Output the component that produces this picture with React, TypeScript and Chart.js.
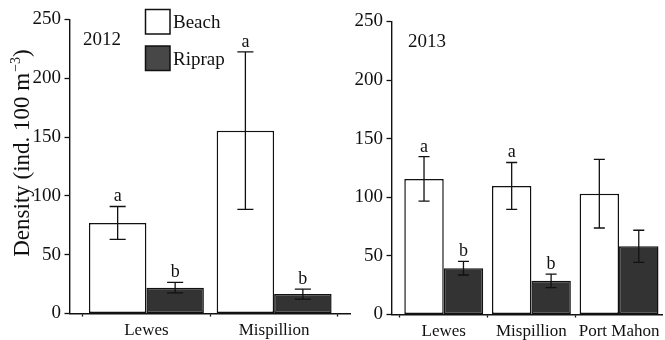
import React, { useEffect, useRef } from "react";
import { Chart, registerables } from "chart.js";

Chart.register(...registerables);

// ---------- data ----------
const SERIES_NAMES = ["Beach", "Riprap"];
const Y_TITLE_MAIN = "Density (ind. 100 m";
const Y_TITLE_SUP = "\u22123";
const Y_TITLE_END = ")";

const YEAR_2012 = "2012";
const SITES_2012 = ["Lewes", "Mispillion"];
const BEACH_2012 = [77, 155.5];
const BEACH_2012_ERR = [14, 67];
const BEACH_2012_LETTERS = ["a", "a"];
const RIPRAP_2012 = [22, 16.5];
const RIPRAP_2012_ERR = [4.5, 4.3];
const RIPRAP_2012_LETTERS = ["b", "b"];

const YEAR_2013 = "2013";
const SITES_2013 = ["Lewes", "Mispillion", "Port Mahon"];
const BEACH_2013 = [115.7, 109.7, 103.1];
const BEACH_2013_ERR = [19, 20, 29.3];
const BEACH_2013_LETTERS = ["a", "a", ""];
const RIPRAP_2013 = [39.5, 28.7, 58.2];
const RIPRAP_2013_ERR = [5.8, 5.8, 13.7];
const RIPRAP_2013_LETTERS = ["b", "b", ""];

const Y_MIN = 0;
const Y_MAX = 250;
const Y_STEP = 50;

// ---------- styles ----------
const FONT = "'Liberation Serif', 'Times New Roman', serif";
const INK = "#111111";
const BEACH_FILL = "#ffffff";
const RIPRAP_FILL = "#333333";
const LEGEND_RIPRAP_FILL = "#474747";

const annotatePlugin = {
  id: "annotate",
  afterDatasetsDraw(chart: any, _args: any, opts: any) {
    const ctx = chart.ctx;
    const yScale = chart.scales.y;
    ctx.save();
    chart.data.datasets.forEach((ds: any, di: number) => {
      const meta = chart.getDatasetMeta(di);
      meta.data.forEach((bar: any, i: number) => {
        const v = ds.data[i].y;
        const e = ds.errors[i];
        const top = yScale.getPixelForValue(v + e);
        const bot = yScale.getPixelForValue(v - e);
        const cap = bar.width * 0.14;
        ctx.strokeStyle = INK;
        ctx.lineWidth = 1.3;
        ctx.beginPath();
        ctx.moveTo(bar.x, top);
        ctx.lineTo(bar.x, bot);
        ctx.moveTo(bar.x - cap, top);
        ctx.lineTo(bar.x + cap, top);
        ctx.moveTo(bar.x - cap, bot);
        ctx.lineTo(bar.x + cap, bot);
        ctx.stroke();
        const letter = ds.letters[i];
        if (letter) {
          ctx.fillStyle = INK;
          ctx.font = `18px ${FONT}`;
          ctx.textAlign = "center";
          ctx.textBaseline = "alphabetic";
          ctx.fillText(letter, bar.x, top - 5);
        }
      });
    });

    // year label
    ctx.fillStyle = INK;
    ctx.font = `19px ${FONT}`;
    ctx.textAlign = "left";
    ctx.textBaseline = "alphabetic";
    ctx.fillText(opts.year, opts.yearX, opts.yearY);

    if (opts.legend) {
      const items = [
        { name: SERIES_NAMES[0], fill: BEACH_FILL, y: 9.5 },
        { name: SERIES_NAMES[1], fill: LEGEND_RIPRAP_FILL, y: 46 },
      ];
      items.forEach((it) => {
        ctx.fillStyle = it.fill;
        ctx.fillRect(145.5, it.y, 24.5, 24.5);
        ctx.strokeStyle = INK;
        ctx.lineWidth = 1.5;
        ctx.strokeRect(145.5, it.y, 24.5, 24.5);
        ctx.fillStyle = INK;
        ctx.font = `19px ${FONT}`;
        ctx.textAlign = "left";
        ctx.textBaseline = "alphabetic";
        ctx.fillText(it.name, 173, it.y + 18.5);
      });
    }

    if (opts.yTitle) {
      const mainFont = `23px ${FONT}`;
      const supFont = `14px ${FONT}`;
      ctx.font = mainFont;
      const w1 = ctx.measureText(Y_TITLE_MAIN).width;
      const w3 = ctx.measureText(Y_TITLE_END).width;
      ctx.font = supFont;
      const w2 = ctx.measureText(Y_TITLE_SUP).width + 1;
      const total = w1 + w2 + w3;
      ctx.translate(29, 153);
      ctx.rotate(-Math.PI / 2);
      ctx.textAlign = "left";
      ctx.textBaseline = "alphabetic";
      let x = -total / 2;
      ctx.font = mainFont;
      ctx.fillText(Y_TITLE_MAIN, x, 0);
      x += w1;
      ctx.font = supFont;
      ctx.fillText(Y_TITLE_SUP, x + 1, -9);
      x += w2;
      ctx.font = mainFont;
      ctx.fillText(Y_TITLE_END, x, 0);
    }
    ctx.restore();
  },
};

function makeConfig(p: any) {
  const mk = (vals: number[]) => vals.map((v, i) => ({ x: i + 1, y: v }));
  return {
    type: "bar",
    data: {
      datasets: [
        {
          label: SERIES_NAMES[0],
          data: mk(p.beach),
          errors: p.beachErr,
          letters: p.beachLetters,
          backgroundColor: BEACH_FILL,
          borderColor: INK,
          borderWidth: 1.5,
          borderSkipped: false,
        },
        {
          label: SERIES_NAMES[1],
          data: mk(p.riprap),
          errors: p.riprapErr,
          letters: p.riprapLetters,
          backgroundColor: RIPRAP_FILL,
          borderColor: INK,
          borderWidth: 1.5,
          borderSkipped: false,
        },
      ],
    },
    options: {
      responsive: false,
      animation: false,
      events: [],
      layout: { padding: p.padding },
      datasets: { bar: { categoryPercentage: 0.9, barPercentage: 1 } },
      plugins: {
        legend: { display: false },
        tooltip: { enabled: false },
        annotate: {
          year: p.year,
          yearX: p.yearX,
          yearY: p.yearY,
          legend: p.legend,
          yTitle: p.yTitle,
        },
      },
      scales: {
        x: {
          type: "linear",
          offset: false,
          min: p.xMin,
          max: p.xMax,
          afterBuildTicks: (s: any) => {
            s.ticks = p.sites.map((_: string, i: number) => ({ value: i + 1 }));
          },
          afterFit: (s: any) => {
            s.height = p.xAxisHeight;
          },
          grid: {
            display: true,
            drawOnChartArea: false,
            drawTicks: true,
            tickLength: 3,
            tickWidth: 1.3,
            color: INK,
          },
          border: { display: true, color: INK, width: 1.4 },
          ticks: {
            autoSkip: false,
            maxRotation: 0,
            padding: 4,
            color: INK,
            font: { family: FONT, size: 17 },
            callback: (_v: any, i: number) => p.sites[i],
          },
        },
        y: {
          min: Y_MIN,
          max: Y_MAX,
          afterFit: (s: any) => {
            s.width = p.yAxisWidth;
          },
          grid: {
            display: true,
            drawOnChartArea: false,
            drawTicks: true,
            tickLength: 5,
            tickWidth: 1.3,
            color: INK,
          },
          border: { display: true, color: INK, width: 1.4 },
          ticks: {
            stepSize: Y_STEP,
            padding: 3.5,
            color: INK,
            font: { family: FONT, size: 19 },
          },
        },
      },
    },
    plugins: [annotatePlugin],
  } as any;
}

export default function App() {
  const leftRef = useRef<HTMLCanvasElement>(null);
  const rightRef = useRef<HTMLCanvasElement>(null);

  useEffect(() => {
    const left = new Chart(
      leftRef.current as HTMLCanvasElement,
      makeConfig({
        sites: SITES_2012,
        beach: BEACH_2012,
        beachErr: BEACH_2012_ERR,
        beachLetters: BEACH_2012_LETTERS,
        riprap: RIPRAP_2012,
        riprapErr: RIPRAP_2012_ERR,
        riprapLetters: RIPRAP_2012_LETTERS,
        year: YEAR_2012,
        yearX: 83,
        yearY: 44.5,
        legend: true,
        yTitle: true,
        xMin: 0.398,
        xMax: 2.594,
        yAxisWidth: 69.5,
        xAxisHeight: 26.5,
        padding: { left: 0, top: 19.5, right: 665 - 350, bottom: 0 },
      })
    );
    const right = new Chart(
      rightRef.current as HTMLCanvasElement,
      makeConfig({
        sites: SITES_2013,
        beach: BEACH_2013,
        beachErr: BEACH_2013_ERR,
        beachLetters: BEACH_2013_LETTERS,
        riprap: RIPRAP_2013,
        riprapErr: RIPRAP_2013_ERR,
        riprapLetters: RIPRAP_2013_LETTERS,
        year: YEAR_2013,
        yearX: 408,
        yearY: 47,
        legend: false,
        yTitle: false,
        xMin: 0.404,
        xMax: 3.49,
        yAxisWidth: 391.5,
        xAxisHeight: 25.5,
        padding: { left: 0, top: 21.5, right: 3, bottom: 0 },
      })
    );
    return () => {
      left.destroy();
      right.destroy();
    };
  }, []);

  const canvasStyle: React.CSSProperties = {
    position: "absolute",
    left: 0,
    top: 0,
    width: 665,
    height: 340,
  };

  return (
    <div
      style={{
        position: "absolute",
        left: 0,
        top: 0,
        width: 665,
        height: 340,
        background: "#ffffff",
      }}
    >
      <canvas ref={leftRef} width={665} height={340} style={canvasStyle} />
      <canvas ref={rightRef} width={665} height={340} style={canvasStyle} />
    </div>
  );
}
